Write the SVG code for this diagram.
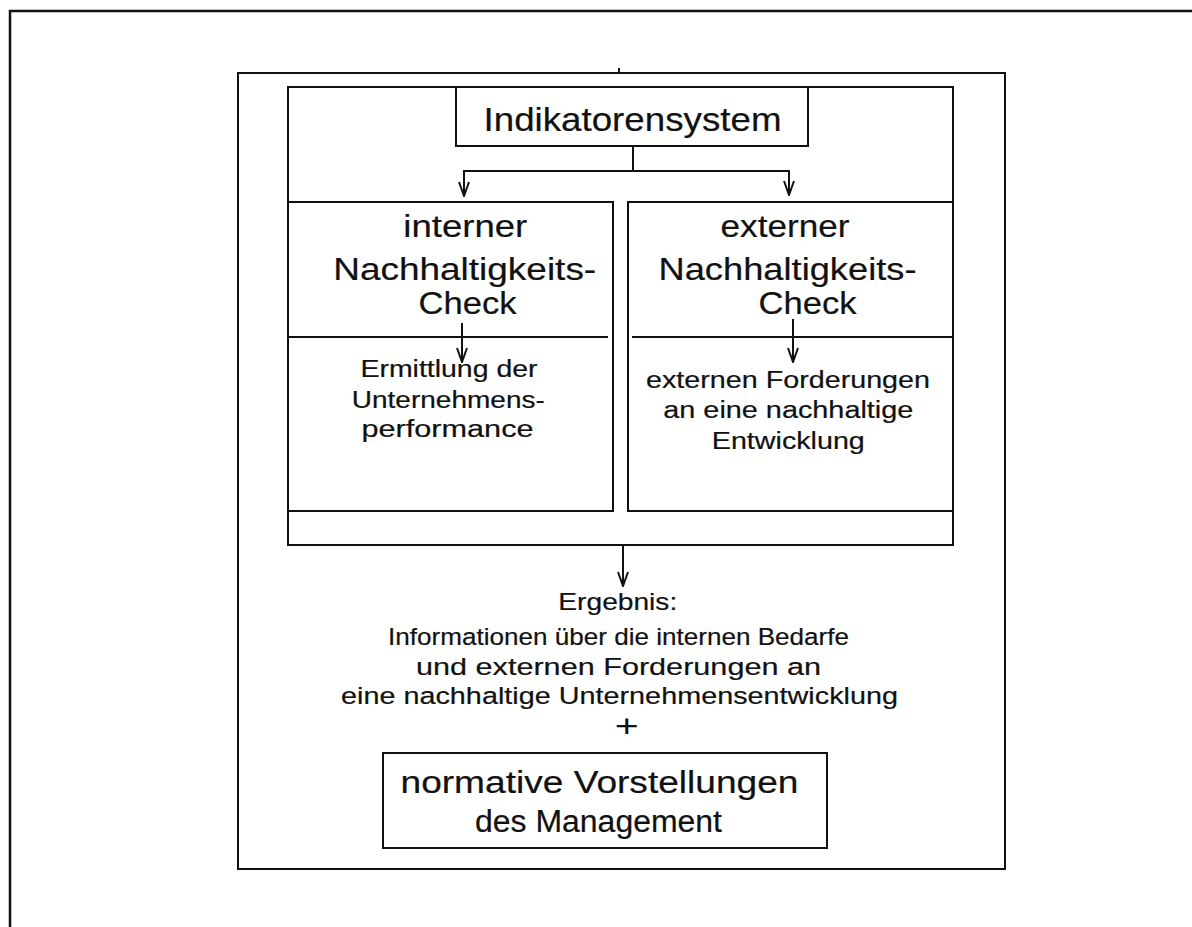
<svg xmlns="http://www.w3.org/2000/svg" width="1192" height="927" viewBox="0 0 1192 927">
  <defs>
    <style>
      .frame { fill: none; stroke: #111; stroke-width: 2; }
      .outer { fill: none; stroke: #111; stroke-width: 2.5; }
      .line { fill: none; stroke: #111; stroke-width: 2; }
      .conn { fill: none; stroke: #111; stroke-width: 2; }
      text { font-family: "Liberation Sans", Arial, sans-serif; fill: #111; stroke: #111; stroke-width: 0.2; text-anchor: middle; }
      .t31 { font-size: 33px; }
      .t30 { font-size: 32px; }
      .t22 { font-size: 23.5px; }
      .t23 { font-size: 24.5px; }
      .t29 { font-size: 31px; }
      .plus { font-size: 32px; stroke-width: 0; }
    </style>
    <!-- open V arrowhead, drawn along +x so orient="auto" points it down the line -->
    <marker id="arrow" viewBox="0 0 16 12" refX="15" refY="6" markerWidth="16" markerHeight="12" markerUnits="userSpaceOnUse" orient="auto">
      <path d="M1,1 L15,6 L1,11" fill="none" stroke="#111" stroke-width="2"/>
    </marker>
  </defs>

  <!-- page frame -->
  <rect class="outer" x="10" y="11" width="1200" height="940"/>

  <!-- outer container -->
  <g id="container">
    <rect class="frame" x="238" y="73" width="767" height="796"/>
    <line class="line" x1="619" y1="68" x2="619" y2="73"/>
  </g>

  <!-- inner check area -->
  <g id="check-area">
    <rect class="frame" x="288" y="87" width="665" height="458"/>
  </g>

  <g id="indikatorensystem">
    <rect class="frame" x="456" y="87" width="352" height="59"/>
    <text class="t31" x="632.5" y="131" textLength="298" lengthAdjust="spacingAndGlyphs">Indikatorensystem</text>
  </g>

  <g id="interner-check">
    <rect class="frame" x="288" y="202" width="325" height="309"/>
    <line class="line" x1="288" y1="337" x2="608" y2="337"/>
    <text class="t30" x="465.3" y="237" textLength="124" lengthAdjust="spacingAndGlyphs">interner</text>
    <text class="t30" x="464.7" y="280" textLength="263" lengthAdjust="spacingAndGlyphs">Nachhaltigkeits-</text>
    <text class="t30" x="467.5" y="313.5" textLength="98" lengthAdjust="spacingAndGlyphs">Check</text>
    <text class="t22" x="449" y="377" textLength="177" lengthAdjust="spacingAndGlyphs">Ermittlung der</text>
    <text class="t22" x="448.3" y="408" textLength="193" lengthAdjust="spacingAndGlyphs">Unternehmens-</text>
    <text class="t22" x="447.5" y="437" textLength="172" lengthAdjust="spacingAndGlyphs">performance</text>
  </g>

  <g id="externer-check">
    <rect class="frame" x="628" y="202" width="325" height="309"/>
    <line class="line" x1="632" y1="337" x2="953" y2="337"/>
    <text class="t30" x="785" y="237" textLength="129" lengthAdjust="spacingAndGlyphs">externer</text>
    <text class="t30" x="787.5" y="280" textLength="258" lengthAdjust="spacingAndGlyphs">Nachhaltigkeits-</text>
    <text class="t30" x="807.5" y="313.5" textLength="98" lengthAdjust="spacingAndGlyphs">Check</text>
    <text class="t22" x="788" y="387.5" textLength="284" lengthAdjust="spacingAndGlyphs">externen Forderungen</text>
    <text class="t22" x="788.3" y="417.5" textLength="250" lengthAdjust="spacingAndGlyphs">an eine nachhaltige</text>
    <text class="t22" x="788.3" y="448.5" textLength="153" lengthAdjust="spacingAndGlyphs">Entwicklung</text>
  </g>

  <g id="ergebnis">
    <text class="t23" x="617.8" y="610" textLength="119" lengthAdjust="spacingAndGlyphs">Ergebnis:</text>
    <text class="t23" x="618.5" y="645" textLength="461" lengthAdjust="spacingAndGlyphs">Informationen über die internen Bedarfe</text>
    <text class="t23" x="618.5" y="675" textLength="405" lengthAdjust="spacingAndGlyphs">und externen Forderungen an</text>
    <text class="t23" x="619.5" y="704" textLength="557" lengthAdjust="spacingAndGlyphs">eine nachhaltige Unternehmensentwicklung</text>
    <text class="plus" x="626.7" y="737" textLength="24" lengthAdjust="spacingAndGlyphs">+</text>
  </g>

  <g id="normative-vorstellungen">
    <rect class="frame" x="383" y="753" width="444" height="95"/>
    <text class="t29" x="599.5" y="793" textLength="398" lengthAdjust="spacingAndGlyphs">normative Vorstellungen</text>
    <text class="t29" x="598.5" y="832" textLength="247" lengthAdjust="spacingAndGlyphs">des Management</text>
  </g>

  <!-- connectors -->
  <g id="connectors">
    <polyline class="conn" points="633,146 633,171 464,171 464,196" marker-end="url(#arrow)"/>
    <polyline class="conn" points="633,171 789,171 789,195" marker-end="url(#arrow)"/>
    <line class="conn" x1="462" y1="323" x2="462" y2="362" marker-end="url(#arrow)"/>
    <line class="conn" x1="793" y1="319" x2="793" y2="362" marker-end="url(#arrow)"/>
    <line class="conn" x1="623" y1="545" x2="623" y2="586" marker-end="url(#arrow)"/>
  </g>
</svg>
